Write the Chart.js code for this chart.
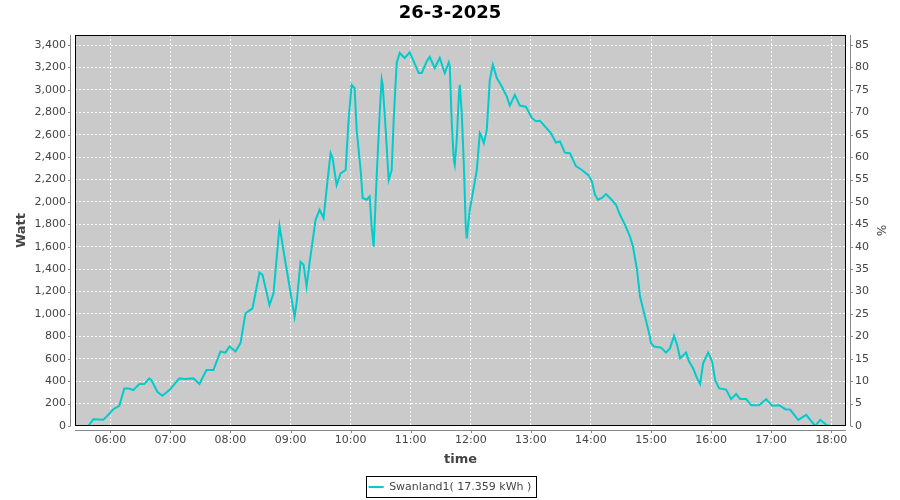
<!DOCTYPE html>
<html>
<head>
<meta charset="utf-8">
<script src="https://cdn.jsdelivr.net/npm/chart.js"></script>
<style>
  html, body { margin: 0; padding: 0; background: #fff; }
</style>
</head>
<body>
<canvas id="power-chart" width="900" height="500"></canvas>
<script>
// measured samples, time of day and power in Watt
const times = [
  '05:38', '05:43', '05:53', '05:58', '06:03', '06:09', '06:14', '06:19', '06:23', '06:29',
  '06:34', '06:39', '06:41', '06:47', '06:52', '06:59', '07:09', '07:14', '07:23', '07:29',
  '07:36', '07:43', '07:50', '07:55', '07:59', '08:05', '08:10', '08:15', '08:22', '08:29',
  '08:32', '08:39', '08:43', '08:49', '08:55', '08:59', '09:04', '09:06', '09:10', '09:13',
  '09:16', '09:19', '09:25', '09:29', '09:33', '09:37', '09:40', '09:42', '09:46', '09:50',
  '09:55', '09:58', '10:01', '10:04', '10:06', '10:10', '10:12', '10:16', '10:19', '10:21',
  '10:23', '10:26', '10:29', '10:31', '10:32', '10:35', '10:38', '10:41', '10:43', '10:46',
  '10:49', '10:54', '10:59', '11:03', '11:08', '11:11', '11:16', '11:19', '11:24', '11:29',
  '11:34', '11:38', '11:39', '11:41', '11:43', '11:44', '11:46', '11:48', '11:49', '11:51',
  '11:53', '11:55', '11:56', '11:59', '12:02', '12:06', '12:09', '12:10', '12:13', '12:16',
  '12:19', '12:22', '12:26', '12:31', '12:36', '12:39', '12:44', '12:49', '12:55', '13:01',
  '13:05', '13:09', '13:14', '13:20', '13:25', '13:29', '13:34', '13:39', '13:45', '13:51',
  '13:58', '14:01', '14:04', '14:07', '14:11', '14:15', '14:19', '14:25', '14:29', '14:34',
  '14:39', '14:42', '14:46', '14:49', '14:54', '14:58', '15:00', '15:03', '15:10', '15:15',
  '15:19', '15:23', '15:26', '15:29', '15:35', '15:38', '15:42', '15:46', '15:49', '15:52',
  '15:57', '16:01', '16:04', '16:08', '16:15', '16:20', '16:25', '16:29', '16:35', '16:40',
  '16:48', '16:55', '17:01', '17:08', '17:14', '17:19', '17:27', '17:35', '17:39', '17:44',
  '17:49', '17:55', '17:59',
];

const watts = [
  0, 60, 55, 100, 150, 180, 335, 335, 320, 375,
  375, 425, 410, 305, 270, 320, 425, 420, 425, 375,
  500, 500, 665, 655, 710, 665, 740, 1005, 1050, 1370,
  1350, 1080, 1185, 1785, 1455, 1245, 975, 1095, 1465, 1440,
  1245, 1455, 1840, 1930, 1855, 2195, 2435, 2390, 2150, 2255,
  2285, 2735, 3045, 3015, 2645, 2285, 2035, 2020, 2050, 1780,
  1600, 2225, 2790, 3095, 3050, 2645, 2195, 2285, 2735, 3240,
  3330, 3285, 3335, 3255, 3150, 3150, 3255, 3295, 3195, 3285,
  3150, 3245, 3210, 2705, 2375, 2330, 2555, 2940, 3045, 2790,
  2345, 1780, 1675, 1930, 2080, 2285, 2615, 2600, 2525, 2645,
  3090, 3225, 3105, 3030, 2940, 2860, 2955, 2860, 2850, 2750,
  2720, 2725, 2675, 2615, 2530, 2540, 2440, 2435, 2320, 2285,
  2235, 2180, 2065, 2020, 2035, 2070, 2035, 1975, 1885, 1795,
  1690, 1600, 1395, 1155, 975, 830, 740, 710, 700, 655,
  695, 805, 725, 605, 655, 575, 515, 425, 375, 560,
  655, 575, 410, 335, 325, 240, 285, 240, 240, 185,
  185, 240, 180, 185, 150, 145, 55, 100, 55, 0,
  55, 10, 0,
];

// axis tick labels
const hourTicks = ['06:00', '07:00', '08:00', '09:00', '10:00', '11:00', '12:00',
  '13:00', '14:00', '15:00', '16:00', '17:00', '18:00'];
const wattTicks = [0, 200, 400, 600, 800, 1000, 1200, 1400, 1600, 1800, 2000,
  2200, 2400, 2600, 2800, 3000, 3200, 3400];
const percentTicks = [0, 5, 10, 15, 20, 25, 30, 35, 40, 45, 50, 55, 60, 65, 70, 75, 80, 85];

const wattMax = 3490;
const toMinutes = s => {
  const [h, m] = s.split(':');
  return parseInt(h) * 60 + parseInt(m);
};

Chart.defaults.font.family = 'DejaVu Sans';
Chart.defaults.font.size = 11;
Chart.defaults.color = '#444';

// grey plot background behind the grid
const plotBackground = {
  id: 'plotBackground',
  beforeDraw(chart) {
    const { ctx, chartArea: a } = chart;
    ctx.save();
    ctx.fillStyle = '#cacaca';
    ctx.fillRect(a.left, a.top, a.right - a.left, a.bottom - a.top);
    ctx.restore();
  },
};

// plot outline, offset axis lines with tick marks, legend frame
const plotFrame = {
  id: 'plotFrame',
  afterDraw(chart) {
    const { ctx, chartArea: a, scales } = chart;
    ctx.save();
    ctx.strokeStyle = '#000';
    ctx.lineWidth = 1;
    ctx.strokeRect(a.left + 0.5, a.top + 0.5, a.right - a.left - 1, a.bottom - a.top - 1);

    ctx.strokeStyle = '#888';
    ctx.beginPath();
    // left axis
    ctx.moveTo(a.left - 4.5, a.top);
    ctx.lineTo(a.left - 4.5, a.bottom);
    scales.y.ticks.forEach(t => {
      const py = Math.round(scales.y.getPixelForValue(t.value)) + 0.5;
      ctx.moveTo(a.left - 4.5, py);
      ctx.lineTo(a.left - 7, py);
    });
    // right axis
    ctx.moveTo(a.right + 4.5, a.top);
    ctx.lineTo(a.right + 4.5, a.bottom);
    scales.y1.ticks.forEach(t => {
      const py = Math.round(scales.y1.getPixelForValue(t.value)) + 0.5;
      ctx.moveTo(a.right + 4.5, py);
      ctx.lineTo(a.right + 7, py);
    });
    // bottom axis
    ctx.moveTo(a.left, a.bottom + 4.5);
    ctx.lineTo(a.right, a.bottom + 4.5);
    scales.x.ticks.forEach(t => {
      const px = Math.round(scales.x.getPixelForValue(t.value)) + 0.5;
      ctx.moveTo(px, a.bottom + 4.5);
      ctx.lineTo(px, a.bottom + 7);
    });
    ctx.stroke();

    const hb = chart.legend && chart.legend.legendHitBoxes[0];
    if (hb) {
      ctx.strokeStyle = '#000';
      const cy = hb.top + hb.height / 2;
      ctx.strokeRect(Math.round(hb.left - 3) + 0.5, Math.round(cy - 11) + 0.5,
        Math.round(hb.width + 7), 21);
    }
    ctx.restore();
  },
};

const chartData = {
  datasets: [
    {
      label: 'Swanland1( 17.359 kWh )',
      data: times.map((t, i) => ({ x: toMinutes(t), y: watts[i] })),
      borderColor: '#00cccc',
      backgroundColor: '#00cccc',
      borderWidth: 2,
      pointRadius: 0,
      tension: 0,
      yAxisID: 'y',
    },
  ],
};

const config = {
  type: 'line',
  data: chartData,
  plugins: [plotBackground, plotFrame],
  options: {
    responsive: false,
    animation: false,
    layout: { padding: 0 },
    scales: {
      x: {
        type: 'linear',
        min: 324.75,
        max: 1094.7,
        afterBuildTicks: scale => {
          scale.ticks = hourTicks.map(h => ({ value: toMinutes(h) }));
        },
        afterFit: scale => {
          scale.height = 500 - 426 - scale.chart.legend.height;
        },
        ticks: {
          padding: 8,
          maxRotation: 0,
          autoSkip: false,
          callback: (value, i) => hourTicks[i],
        },
        grid: { color: '#fff', lineWidth: 1, drawTicks: false },
        border: { display: false, dash: [2, 2] },
        title: {
          display: true,
          text: 'time',
          font: { size: 13, weight: 'bold' },
          padding: { top: 0, bottom: 5.7 },
        },
      },
      y: {
        position: 'left',
        min: 0,
        max: wattMax,
        afterBuildTicks: scale => {
          scale.ticks = wattTicks.map(v => ({ value: v }));
        },
        afterFit: scale => {
          scale.width = 75;
        },
        ticks: {
          padding: 9,
          callback: value => value.toLocaleString('en-US'),
        },
        grid: { color: '#fff', lineWidth: 1, drawTicks: false },
        border: { display: false, dash: [2, 2] },
        title: {
          display: true,
          text: 'Watt',
          font: { size: 13, weight: 'bold' },
          padding: { top: 13.5, bottom: 0 },
        },
      },
      y1: {
        position: 'right',
        min: 0,
        max: wattMax / 40,
        afterBuildTicks: scale => {
          scale.ticks = percentTicks.map(v => ({ value: v }));
        },
        afterFit: scale => {
          scale.width = 54;
        },
        ticks: { padding: 9 },
        grid: { display: false, drawTicks: false },
        border: { display: false },
        title: {
          display: true,
          text: '%',
          font: { size: 12 },
          padding: { top: 12.8, bottom: 0 },
        },
      },
    },
    plugins: {
      title: {
        display: true,
        text: '26-3-2025',
        color: '#000',
        font: { size: 18, weight: 'bold' },
        padding: { top: 3, bottom: 10.4 },
      },
      legend: {
        position: 'bottom',
        maxHeight: 26.5,
        labels: {
          usePointStyle: true,
          pointStyle: 'line',
          pointStyleWidth: 15,
          padding: 8,
          color: '#444',
          font: { size: 11 },
        },
      },
      tooltip: { enabled: false },
    },
  },
};

const chart = new Chart(document.querySelector('#power-chart'), config);
</script>
</body>
</html>
